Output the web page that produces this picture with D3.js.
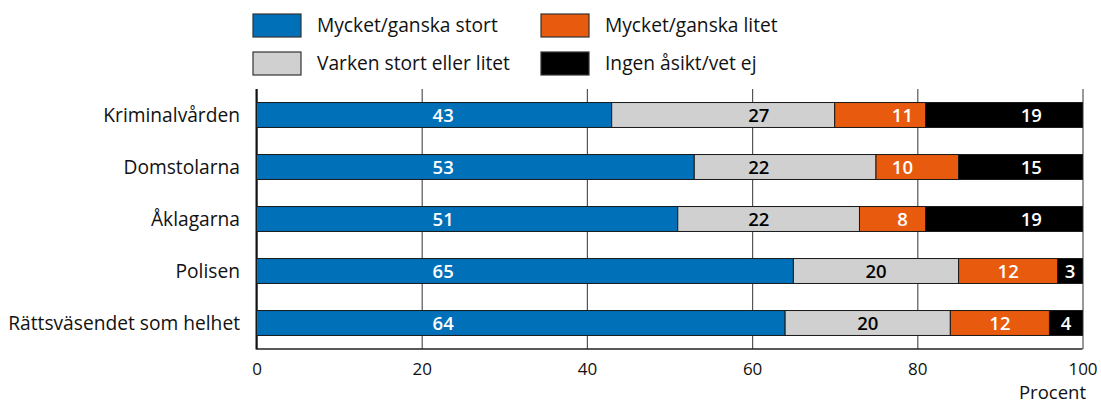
<!DOCTYPE html>
<html lang="sv">
<head>
<meta charset="utf-8">
<script src="https://cdn.jsdelivr.net/npm/d3@7"></script>
<style>
  html, body { margin: 0; padding: 0; background: #fff; }
  svg { display: block; font-family: "Open Sans", "Noto Sans", sans-serif; }
</style>
</head>
<body>
<svg id="chart" width="1101" height="403"></svg>
<script>
// Förtroende för rättsväsendets myndigheter (procent)
const categories = ["Kriminalvården", "Domstolarna", "Åklagarna", "Polisen", "Rättsväsendet som helhet"];
const seriesNames = ["Mycket/ganska stort", "Varken stort eller litet", "Mycket/ganska litet", "Ingen åsikt/vet ej"];
const storts  = [43, 53, 51, 65, 64];
const varken  = [27, 22, 22, 20, 20];
const litet   = [11, 10, 8, 12, 12];
const ingen   = [19, 15, 19, 3, 4];
const xTicks  = [0, 20, 40, 60, 80, 100];
const axisTitle = "Procent";

const seriesValues = [storts, varken, litet, ingen];
const colors = ["#0070b9", "#d0d0d0", "#e85a0d", "#000000"];
const textColors = ["#ffffff", "#000000", "#ffffff", "#ffffff"];
// Shared label columns (in percent); a label falls back to its segment centre when it does not fit
const labelColumns = [22.6, 60.8, 78.2, 93.8];

const svg = d3.select("#chart");
const plot = { left: 256.5, right: 1082.5, top: 89, bottom: 349 };

const x = d3.scaleLinear().domain([0, 100]).range([plot.left, plot.right]);
const y = d3.scaleBand().domain(categories).range([plot.top, plot.bottom])
  .paddingInner(0.52).paddingOuter(0.26);

// Stacked rows built from the series arrays
const rows = categories.map((c, i) => {
  const r = { category: c };
  seriesNames.forEach((s, k) => { r[s] = seriesValues[k][i]; });
  return r;
});
const stacked = d3.stack().keys(seriesNames)(rows);

// Vertical gridlines
const grid = svg.append("g")
  .attr("transform", `translate(0,${plot.bottom})`)
  .call(d3.axisBottom(x).tickValues(xTicks).tickSize(-(plot.bottom - plot.top)).tickFormat(""));
grid.select(".domain").remove();
grid.selectAll(".tick line").attr("stroke", "#555").attr("stroke-width", 1.2);

// Tick labels
const axis = svg.append("g")
  .attr("transform", `translate(0,${plot.bottom})`)
  .call(d3.axisBottom(x).tickValues(xTicks).tickSize(0).tickPadding(14).tickFormat(d3.format("d")));
axis.select(".domain").remove();
axis.selectAll("text").attr("font-size", 17).attr("fill", "#111")
  .attr("font-family", "'Open Sans', sans-serif");

// Left axis and bottom frame lines
svg.append("line").attr("x1", x(0)).attr("x2", x(0)).attr("y1", plot.top).attr("y2", plot.bottom + 0.5)
  .attr("stroke", "#111").attr("stroke-width", 2);
svg.append("line").attr("x1", x(0)).attr("x2", x(100)).attr("y1", plot.bottom).attr("y2", plot.bottom)
  .attr("stroke", "#222").attr("stroke-width", 1.5);

// Bars
const layers = svg.append("g").selectAll("g").data(stacked).join("g")
  .attr("fill", (d, k) => colors[k]);
layers.selectAll("rect").data(d => d).join("rect")
  .attr("x", d => x(d[0]))
  .attr("width", d => x(d[1]) - x(d[0]))
  .attr("y", d => y(d.data.category))
  .attr("height", y.bandwidth())
  .attr("stroke", "#1a1a1a").attr("stroke-width", 1);

// Value labels
const labelLayer = svg.append("g");
stacked.forEach((layer, k) => {
  layer.forEach(d => {
    const value = d[1] - d[0];
    const t = labelLayer.append("text")
      .attr("text-anchor", "middle")
      .attr("font-size", 18.5)
      .attr("font-weight", 600)
      .attr("fill", textColors[k])
      .attr("y", y(d.data.category) + y.bandwidth() / 2)
      .attr("dy", "0.36em")
      .text(value);
    const half = t.node().getComputedTextLength() / 2;
    const x0 = x(d[0]), x1 = x(d[1]);
    const col = x(labelColumns[k]);
    const cx = (col - half - 3 >= x0 && col + half + 3 <= x1) ? col : (x0 + x1) / 2;
    t.attr("x", cx);
  });
});

// Category labels
svg.append("g").selectAll("text").data(categories).join("text")
  .attr("x", 240)
  .attr("y", d => y(d) + y.bandwidth() / 2)
  .attr("dy", "0.36em")
  .attr("text-anchor", "end")
  .attr("font-size", 19.2)
  .attr("fill", "#111")
  .text(d => d);

// Axis title
svg.append("text")
  .attr("x", 1086).attr("y", 399)
  .attr("text-anchor", "end")
  .attr("font-size", 18.5)
  .attr("fill", "#111")
  .text(axisTitle);

// Legend
const legendPos = [[253, 14], [541, 14], [253, 52], [541, 52]];
const order = [0, 2, 1, 3];
const legend = svg.append("g").selectAll("g").data(order).join("g")
  .attr("transform", (k, i) => `translate(${legendPos[i]})`);
legend.append("rect")
  .attr("width", 48).attr("height", 23)
  .attr("fill", k => colors[k])
  .attr("stroke", "#333").attr("stroke-width", 1.2);
legend.append("text")
  .attr("x", 64).attr("y", 11.5).attr("dy", "0.36em")
  .attr("font-size", 19.2).attr("fill", "#111")
  .text(k => seriesNames[k]);
</script>
</body>
</html>
